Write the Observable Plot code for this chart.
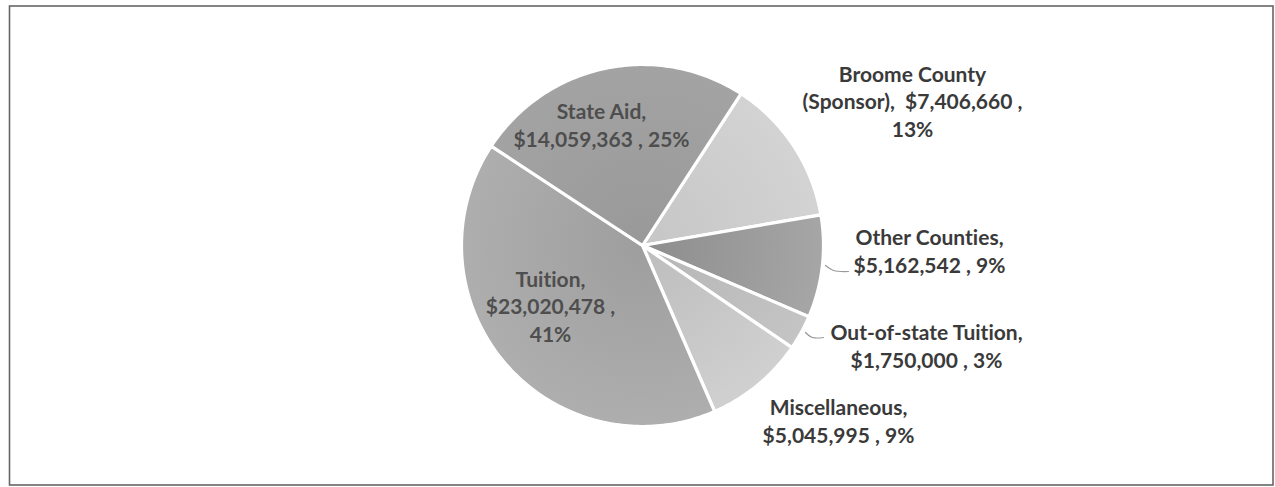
<!DOCTYPE html>
<html>
<head>
<meta charset="utf-8">
<script src="https://cdn.jsdelivr.net/npm/d3@7"></script>
<script src="https://cdn.jsdelivr.net/npm/@observablehq/plot@0.6"></script>
<style>
  html, body { margin: 0; padding: 0; background: #fff; }
  #chart svg { display: block; }
  #chart svg text { font-variant-ligatures: none; font-feature-settings: "liga" 0, "clig" 0; }
</style>
</head>
<body>
<div id="chart"></div>
<script>
// ---- data ----
const categories = ["Broome County (Sponsor)", "Other Counties", "Out-of-state Tuition", "Miscellaneous", "Tuition", "State Aid"];
const amounts = [7406660, 5162542, 1750000, 5045995, 23020478, 14059363];
const percentLabels = ["13%", "9%", "3%", "9%", "41%", "25%"];

// ---- layout / style (not data) ----
const W = 1275, H = 487;
const CX = 642, CY = 245, R = 181;
const START_DEG = 33;
const displayNames = ["Broome County\n(Sponsor)", "Other Counties", "Out-of-state Tuition", "Miscellaneous", "Tuition", "State Aid"];
const wrapStyle = ["broome", "two", "two", "two", "three", "two"];
// label anchor: center x and last-line baseline, in pixels
const labelX = [912, 929, 926, 838, 550, 601];
const labelBase = [136, 272, 367, 442, 341, 146];
const labelInside = [false, false, false, false, true, true];
const gradInner = ["#c6c6c6", "#8d8d8d", "#b6b6b6", "#bdbdbd", "#9e9e9e", "#999999"];
const gradOuter = ["#d3d3d3", "#a6a6a6", "#c4c4c4", "#d0d0d0", "#aeaeae", "#a3a3a3"];
// leader lines (pixel points)
const leaders = [
  [[825, 265], [833, 270], [848, 271]],
  [[805, 332], [812, 337], [823, 337]]
];

// coordinates: data units = pixels relative to pie center, y up
const toX = px => px - CX;
const toY = py => CY - py;

const fmt = d3.format("$,");
const arcs = d3.pie().sort(null)
  .startAngle(START_DEG * Math.PI / 180)
  .endAngle(START_DEG * Math.PI / 180 + 2 * Math.PI)(amounts);

const slices = arcs.map((a, i) => {
  const pts = [{x: 0, y: 0}];
  const n = Math.max(8, Math.ceil((a.endAngle - a.startAngle) / (Math.PI / 180)));
  for (let k = 0; k <= n; k++) {
    const t = a.startAngle + (a.endAngle - a.startAngle) * k / n;
    pts.push({x: R * Math.sin(t), y: R * Math.cos(t)});
  }
  pts.push({x: 0, y: 0});
  return pts;
});

function labelText(i) {
  const name = displayNames[i], money = fmt(amounts[i]), pct = percentLabels[i];
  if (wrapStyle[i] === "broome") {
    const [l1, l2] = name.split("\n");
    return `${l1}\n${l2},\u00a0 ${money} ,\n${pct}`;
  }
  if (wrapStyle[i] === "three") return `${name},\n${money} ,\n${pct}`;
  return `${name},\n${money} , ${pct}`;
}

const labels = categories.map((c, i) => ({
  x: toX(labelX[i]), y: toY(labelBase[i]), text: labelText(i), inside: labelInside[i]
}));

const leaderData = leaders.flatMap((pts, j) => pts.map(p => ({x: toX(p[0]), y: toY(p[1]), id: j})));

const plot = Plot.plot({
  width: W, height: H,
  marginTop: 0, marginRight: 0, marginBottom: 0, marginLeft: 0,
  x: {domain: [-CX, W - CX], axis: null},
  y: {domain: [-(H - CY), CY], axis: null},
  style: {background: "#fff", overflow: "visible"},
  marks: [
    Plot.frame({stroke: "#666", strokeWidth: 1.6, insetLeft: 9, insetTop: 5.5, insetRight: 2.5, insetBottom: 2.5}),
    ...slices.map((pts, i) => Plot.line(pts, {
      x: "x", y: "y", fill: `url(#slice${i})`, stroke: "#fff", strokeWidth: 3.2, strokeLinejoin: "round"
    })),
    Plot.line(leaderData, {x: "x", y: "y", z: "id", stroke: "#9a9a9a", strokeWidth: 1.2, curve: "catmull-rom"}),
    Plot.text(labels, {
      x: "x", y: "y", text: "text",
      fill: d => d.inside ? "#4e4e4e" : "#3a3a3a",
      fontFamily: "Lato", fontWeight: "bold", fontSize: 21,
      lineHeight: 1.29, textAnchor: "middle", lineAnchor: "bottom"
    })
  ]
});

// gradients: slightly darker at the pie center, lighter toward the rim
const sx = plot.scale("x"), sy = plot.scale("y");
const cxp = sx.apply(0), cyp = sy.apply(0);
const svg = d3.select(plot);
const defs = svg.insert("defs", ":first-child");
gradInner.forEach((c, i) => {
  const g = defs.append("radialGradient")
    .attr("id", `slice${i}`).attr("gradientUnits", "userSpaceOnUse")
    .attr("cx", cxp).attr("cy", cyp).attr("r", R);
  g.append("stop").attr("offset", "0%").attr("stop-color", c);
  g.append("stop").attr("offset", "100%").attr("stop-color", gradOuter[i]);
});

document.getElementById("chart").appendChild(plot);
</script>
</body>
</html>
